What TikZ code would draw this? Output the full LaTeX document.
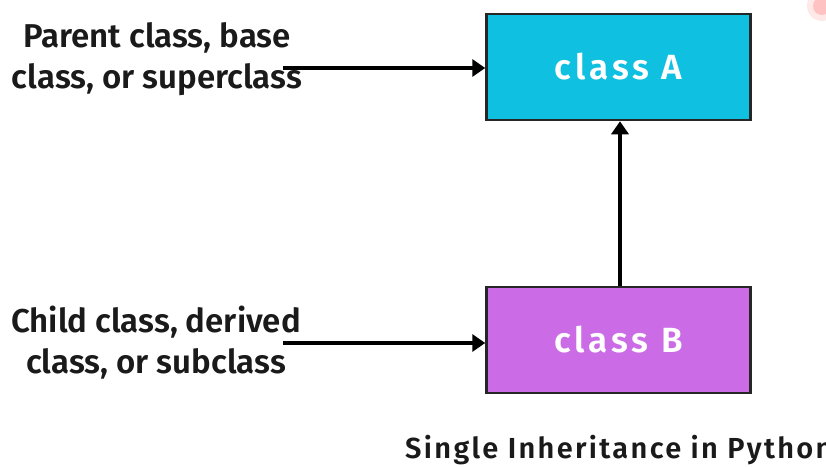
\documentclass[tikz,border=0pt]{standalone}
\usepackage{fontspec}
\setmainfont{Fira Sans}
\newfontfamily\semib{Fira Sans SemiBold}
\usetikzlibrary{arrows.meta}
\definecolor{cA}{HTML}{0FC0E0}
\definecolor{cB}{HTML}{CB6CE6}
\definecolor{txt}{HTML}{1A1A1A}
\tikzset{
  classbox/.style={draw=black!85, line width=2.5pt, minimum width=264pt, minimum height=106pt, inner sep=0pt, font=\fontsize{35}{40}\selectfont\semib\addfontfeatures{LetterSpace=11}, text=white},
  lbl/.style={align=center, font=\fontsize{33}{41}\selectfont\semib, text=txt, inner sep=0pt},
  conn/.style={line width=3.5pt, -{Triangle[length=13pt,width=17pt]}, black}
}
\begin{document}
\begin{tikzpicture}[x=1pt,y=-1pt]
\useasboundingbox (0,0) rectangle (826,466);
\clip (0,0) rectangle (826,466);
\fill[red!60, opacity=0.35] (822,6) circle (9);
\fill[red!30, opacity=0.3] (822,6) circle (15);
\node[classbox, fill=cA] (A) at (618.5,67) {class A};
\node[classbox, fill=cB] (B) at (618.5,340) {class B};
\node[lbl] (LA) at (157,59) {Parent class, base\\class, or superclass};
\node[lbl] (LB) at (156,343) {Child class, derived\\class, or subclass};
\coordinate (sA) at (283,68);
\coordinate (sB) at (283,343);
\draw[conn] (sA) -- (A.west |- sA);
\draw[conn] (sB) -- (B.west |- sB);
\draw[conn] (B.north -| 620,0) -- (A.south -| 620,0);
\node[anchor=base west, inner sep=0pt, font=\fontsize{29}{30}\selectfont\semib\addfontfeatures{LetterSpace=8}, text=txt] (T) at (405,458) {Single Inheritance in Python};
\end{tikzpicture}
\end{document}
